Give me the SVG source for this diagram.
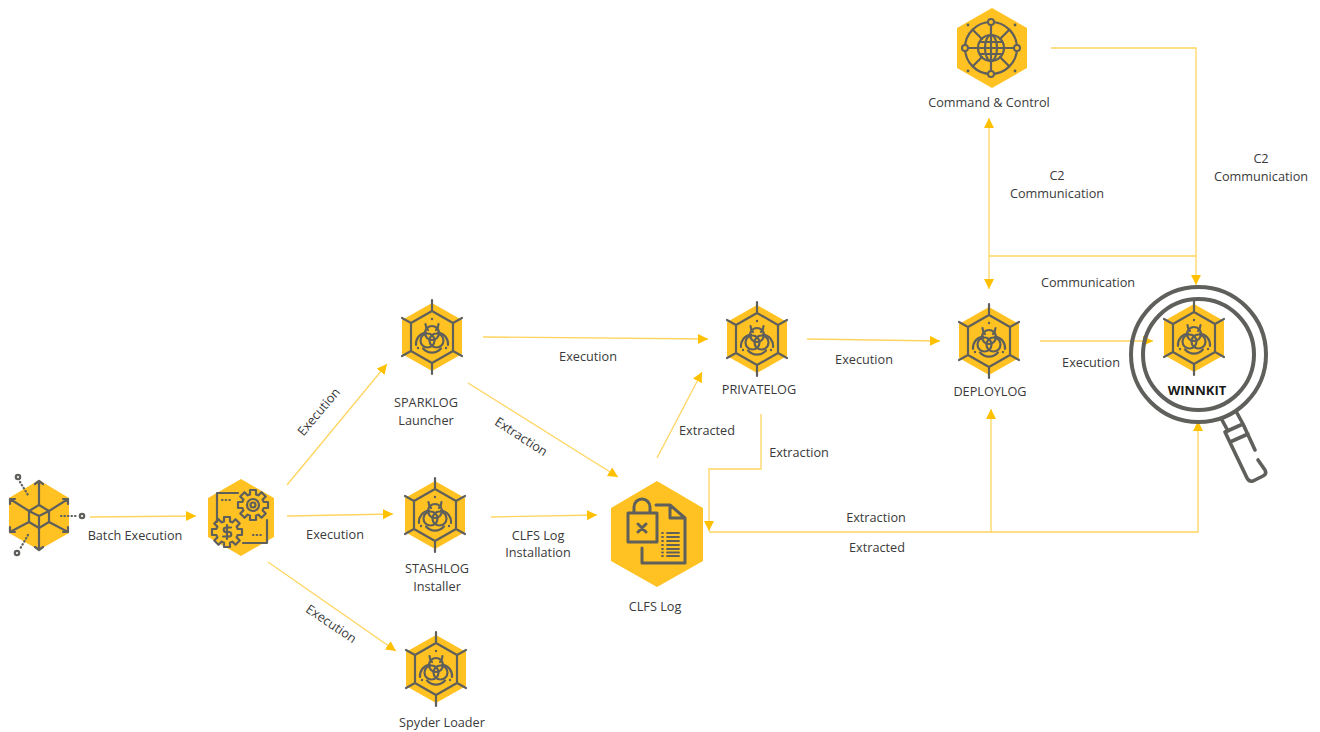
<svg xmlns="http://www.w3.org/2000/svg" width="1320" height="732" viewBox="0 0 1320 732">
<style>
text{font-family:"Open Sans","Noto Sans","Liberation Sans",sans-serif;font-size:12.700px;fill:#3a3a3a;text-anchor:middle}
.c{fill:none;stroke:#FFD55F;stroke-width:1.300;marker-end:url(#a)}
.l{fill:none;stroke:#FFD55F;stroke-width:1.300}
.i{fill:none;stroke:#5f5f5c;stroke-width:2.200;stroke-linecap:round;stroke-linejoin:round}
.h{fill:#FFC222}
.d{fill:#5f5f5c;stroke:none}
</style>
<defs>
<marker id="a" markerUnits="userSpaceOnUse" markerWidth="11" markerHeight="11" refX="10" refY="5" orient="auto"><path d="M0 0L10 5L0 10Z" fill="#FFC000"/></marker>
<path id="gear" class="i" d="M10.600-3L15-3L15 3L10.600 3A11 11 0 0 1 9.620 5.380L12.730 8.490L8.490 12.730L5.380 9.620A11 11 0 0 1 3 10.600L3 15L-3 15L-3 10.600A11 11 0 0 1-5.380 9.620L-8.490 12.730L-12.730 8.490L-9.620 5.380A11 11 0 0 1-10.600 3L-15 3L-15-3L-10.600-3A11 11 0 0 1-9.620-5.380L-12.730-8.490L-8.490-12.730L-5.380-9.620A11 11 0 0 1-3-10.600L-3-15L3-15L3-10.600A11 11 0 0 1 5.380-9.620L8.490-12.730L12.730-8.490L9.620-5.380A11 11 0 0 1 10.600-3Z"/>
<g id="bio">
<path class="h" d="M0-34L30-17V17L0 34L-30 17V-17Z"/>
<path class="i" d="M0-26L21-14V14L0 26L-21 14V-14ZM0-37V-26M0 37V26M-30-19L-21-14M30-19L21-14M-30 19L-21 14M30 19L21 14"/>
<circle class="i" cx="0" cy="-4" r="7"/><circle class="i" cx="-4.500" cy="3.500" r="7"/><circle class="i" cx="4.500" cy="3.500" r="7"/>
<path class="i" d="M-6.500-13A9 9 0 0 0-4-7M6.500-13A9 9 0 0 1 4-7M-16 8A11.500 11.500 0 0 1-6-4.500M16 8A11.500 11.500 0 0 0 6-4.500M-9 11.500A12 12 0 0 0 9 11.500"/>
<circle class="d" cx="0" cy="-18" r="1.200"/><circle class="d" cx="-14" cy="11" r="1.200"/><circle class="d" cx="14" cy="11" r="1.200"/>
</g>
</defs>
<g id="connectors">
<path class="c" d="M90 517L196 516"/>
<path class="c" d="M287 485L387 364"/>
<path class="c" d="M287 516L393 514"/>
<path class="c" d="M268 562L396 651"/>
<path class="c" d="M483 337L708 339"/>
<path class="c" d="M468 383L618 477"/>
<path class="c" d="M491 517L597 515"/>
<path class="c" d="M657 458L702 372"/>
<path class="c" d="M761 414V469H709V531"/>
<path class="c" d="M807 339L940 341"/>
<path class="c" d="M1040 341H1153"/>
<path class="c" d="M709 532H991V409"/>
<path class="c" d="M991 532H1198V421"/>
<path class="c" d="M989 256V118"/>
<path class="c" d="M989 256V289"/>
<path class="l" d="M989 256H1196"/>
<path class="c" d="M1051 48H1196V285"/>
</g>
<g id="batch">
<path class="h" d="M39 480L69 498V533L39 550L9 533V498Z"/>
<path class="i" d="M39 482V505M39 549V528M10 499L29 511M68 499L49 511M10 532L29 522M68 532L49 522M35 484L39 481L43 484M10 504V499H15M68 504V499H63M10 527V532H15M68 527V532H63M35 547L39 550L43 547"/>
<path class="i" d="M39 505L49 511V522L39 528L29 522V511ZM29 511L39 516L49 511M39 516V528"/>
<path class="i" stroke-dasharray="0.500 3" d="M20 482L28 495M61 516H78M28 535L20 549"/>
<circle class="i" cx="18" cy="477" r="2.200"/><circle class="i" cx="82" cy="516" r="2.200"/><circle class="i" cx="17" cy="553" r="2.200"/>
</g>
<g id="execution-hub">
<path class="h" d="M241 479L274 498V537L241 556L208 537V498Z"/>
<path class="i" d="M238 493H217V522M267 520V543H243"/>
<path class="i" stroke-dasharray="0.500 3.200" d="M222 500H231M253 535H264"/>
<use href="#gear" transform="translate(253 505)"/>
<circle class="i" cx="253" cy="505" r="6"/><circle class="i" cx="253" cy="505" r="2.500"/>
<use href="#gear" transform="translate(227 532)"/>
<path class="i" d="M231 527.500H226A2.200 2.200 0 0 0 226 532H229A2.200 2.200 0 0 1 229 536.500H223M227 525V539"/>
</g>
<g id="sparklog"><use href="#bio" x="432" y="337"/><text x="426" y="407">SPARKLOG</text><text x="426" y="425">Launcher</text></g>
<g id="stashlog"><use href="#bio" x="435" y="515"/><text x="437" y="573">STASHLOG</text><text x="437" y="591">Installer</text></g>
<g id="spyder"><use href="#bio" x="436" y="669"/><text x="442" y="727">Spyder Loader</text></g>
<g id="privatelog"><use href="#bio" x="757" y="339"/><text x="759" y="394">PRIVATELOG</text></g>
<g id="deploylog"><use href="#bio" x="989" y="341"/><text x="990" y="396">DEPLOYLOG</text></g>
<g id="clfs">
<path class="h" d="M657 481L703 508V561L657 587L611 561V508Z"/>
<path class="i" style="stroke-width:3" d="M628 513H657V542H628ZM634 513V507A8 8 0 0 1 650 507V513M638 524L646 532M646 524L638 532M656 505H670L685 518V563H642V548M670 505V518H685"/>
<path class="i" style="stroke-width:1.800" d="M667 533H679M667 537H679M667 541H679M667 545H679M667 549H679M667 552.500H679M667 556H679M662 533H663M662 537H663M662 541H663M662 545H663M662 549H663M662 552.500H663M662 556H663"/>
<text x="655" y="611">CLFS Log</text>
</g>
<g id="c2">
<path class="h" d="M992 8L1027 28V68L992 88L957 68V28Z"/>
<circle class="i" cx="991" cy="48" r="26"/><circle class="i" cx="991" cy="48" r="13"/>
<ellipse class="i" cx="991" cy="48" rx="6" ry="13"/><path class="i" d="M978 48H1004M980 42H1002M980 54H1002M991 35V61M991 25V35M991 61V71M968 48H978M1004 48H1014M973 30L982 39M1009 30L1000 39M973 66L982 57M1009 66L1000 57"/>
<g class="h" stroke="#5f5f5c" stroke-width="2"><circle cx="991" cy="22" r="3"/><circle cx="991" cy="74" r="3"/><circle cx="965" cy="48" r="3"/><circle cx="1017" cy="48" r="3"/></g>
<circle class="d" cx="968" cy="25" r="1.400"/><circle class="d" cx="1015" cy="25" r="1.400"/><circle class="d" cx="968" cy="71" r="1.400"/><circle class="d" cx="1015" cy="71" r="1.400"/>
<text x="989" y="107">Command &amp; Control</text>
</g>
<g id="winnkit">
<use href="#bio" x="1194" y="338"/>
<circle cx="1198.500" cy="354.500" r="67.500" fill="none" stroke="#5f5f5c" stroke-width="4"/>
<circle cx="1198.500" cy="354.500" r="55.500" fill="none" stroke="#5f5f5c" stroke-width="4"/>
<path class="i" style="stroke-width:3.600" d="M1222 420L1228 431M1237 413L1243 424M1225 432L1243 424M1230 442L1248 434M1225 432L1247 478Q1249 482 1253 481L1263 476Q1267 474 1265 470L1258 460M1243 424L1255 450"/>
<text x="1197" y="395" style="font-weight:700;fill:#1a1a1a;font-size:13px">WINNKIT</text>
</g>
<g id="labels">
<text x="135" y="540">Batch Execution</text>
<text transform="translate(319 412) rotate(-50)" y="4">Execution</text>
<text x="335" y="539">Execution</text>
<text transform="translate(331 624) rotate(34)" y="4">Execution</text>
<text x="588" y="361">Execution</text>
<text transform="translate(521 437) rotate(33)" y="4">Extraction</text>
<text x="538" y="540">CLFS Log</text><text x="538" y="557">Installation</text>
<text x="707" y="435">Extracted</text>
<text x="799" y="457">Extraction</text>
<text x="864" y="364">Execution</text>
<text x="1091" y="367">Execution</text>
<text x="876" y="522">Extraction</text>
<text x="877" y="552">Extracted</text>
<text x="1057" y="180">C2</text><text x="1057" y="198">Communication</text>
<text x="1261" y="163">C2</text><text x="1261" y="181">Communication</text>
<text x="1088" y="287">Communication</text>
</g>
</svg>
